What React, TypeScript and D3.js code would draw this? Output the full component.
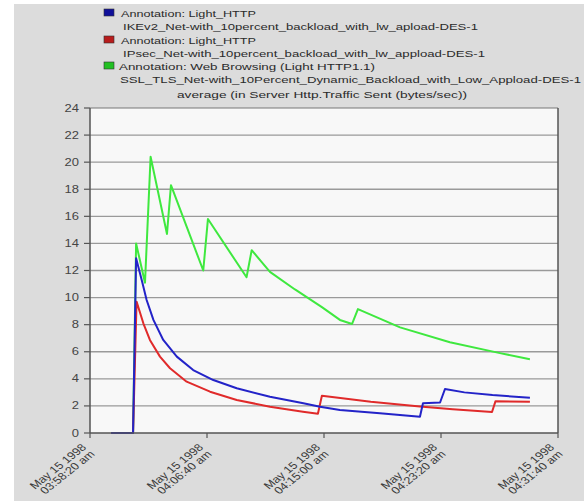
import React from "react";
import * as d3 from "d3";

// seconds after 03:58:20 am, May 15 1998
const ikevTimes = [90, 184, 197, 221, 242, 271, 313, 371, 441, 527, 627, 769, 912, 983, 1068, 1239, 1410, 1423, 1496, 1517, 1600, 1720, 1880];
const ikevValues = [0, 0, 12.9, 11.3, 9.82, 8.35, 6.87, 5.64, 4.65, 3.91, 3.3, 2.68, 2.19, 1.94, 1.7, 1.45, 1.2, 2.2, 2.25, 3.25, 3.0, 2.8, 2.6];

const ipsecTimes = [90, 184, 199, 228, 256, 299, 342, 413, 513, 627, 769, 910, 974, 991, 1200, 1410, 1550, 1718, 1733, 1880];
const ipsecValues = [0, 0, 9.7, 8.1, 6.87, 5.64, 4.78, 3.79, 3.05, 2.44, 1.94, 1.57, 1.42, 2.75, 2.3, 1.95, 1.75, 1.55, 2.35, 2.3];

const sslTimes = [90, 184, 197, 235, 259, 329, 346, 484, 504, 669, 691, 769, 876, 991, 1068, 1120, 1145, 1325, 1538, 1752, 1880];
const sslValues = [0, 0, 14.0, 11.1, 20.4, 14.7, 18.3, 12.0, 15.8, 11.5, 13.5, 11.9, 10.6, 9.3, 8.35, 8.05, 9.15, 7.8, 6.7, 5.9, 5.45];

const xTickTimes = ["03:58:20", "04:06:40", "04:15:00", "04:23:20", "04:31:40"];
const yTicks = [0, 2, 4, 6, 8, 10, 12, 14, 16, 18, 20, 22, 24];

const legendLines = [
  "Annotation: Light_HTTP",
  "IKEv2_Net-with_10percent_backload_with_lw_apload-DES-1",
  "Annotation: Light_HTTP",
  "IPsec_Net-with_10percent_backload_with_lw_appload-DES-1",
  "Annotation: Web Browsing (Light HTTP1.1)",
  "SSL_TLS_Net-with_10Percent_Dynamic_Backload_with_Low_Appload-DES-1",
];
const chartTitle = "average (in Server Http.Traffic Sent (bytes/sec))";

const start = new Date(1998, 4, 15, 3, 58, 20);
const toDate = (s: number) => new Date(start.getTime() + s * 1000);
const parseClock = (c: string) => {
  const [h, m, s] = c.split(":").map(Number);
  return new Date(1998, 4, 15, h, m, s);
};

const W = 584, H = 501;
const left = 90, right = 558, top = 108, bottom = 433;
const font = "'Liberation Sans', Arial, sans-serif";

export default function App() {
  const x = d3.scaleTime().domain([start, parseClock("04:31:40")]).range([left, right]);
  const y = d3.scaleLinear().domain([0, 24]).range([bottom, top]);
  const line = d3.line<[number, number]>().x(d => x(toDate(d[0]))).y(d => y(d[1]));
  const pts = (t: number[], v: number[]) => t.map((s, i) => [s, v[i]] as [number, number]);

  const series = [
    { t: sslTimes, v: sslValues, color: "#3fe83f" },
    { t: ipsecTimes, v: ipsecValues, color: "#e02a2a" },
    { t: ikevTimes, v: ikevValues, color: "#2323c8" },
  ];

  const legendLayout = [
    { x: 121, y: 17, w: 135 },
    { x: 123, y: 30, w: 355 },
    { x: 121, y: 44, w: 135 },
    { x: 123, y: 57, w: 362 },
    { x: 119, y: 70, w: 256 },
    { x: 120, y: 83, w: 461 },
  ];
  const swatches = [
    { y: 9, c: "#10109a" },
    { y: 36, c: "#b81c1c" },
    { y: 62, c: "#22c022" },
  ];

  return (
    <svg width={W} height={H} style={{ position: "absolute", left: 0, top: 0 }} fontFamily={font}>
      <rect width={W} height={H} fill="#ffffff" />
      <rect x={14} y={4} width={W - 14} height={H - 4} fill="#dcdcdc" />

      {swatches.map((s, i) => (
        <rect key={i} x={104} y={s.y} width={10} height={7} fill={s.c} stroke="#333" strokeWidth={0.6} />
      ))}
      {legendLines.map((txt, i) => (
        <text key={i} x={legendLayout[i].x} y={legendLayout[i].y} fontSize={9.5} fill="#2a2a2a"
          textLength={legendLayout[i].w} lengthAdjust="spacingAndGlyphs">{txt}</text>
      ))}
      <text x={177} y={98} fontSize={9.5} fill="#2a2a2a" textLength={290} lengthAdjust="spacingAndGlyphs">{chartTitle}</text>

      <rect x={left} y={top} width={right - left} height={bottom - top} fill="#f8f8f8" />
      {yTicks.map(t => (
        <g key={t}>
          {t > 0 && t < 24 && <line x1={left} x2={right} y1={y(t)} y2={y(t)} stroke="#9a9a9a" strokeWidth={1.4} />}
          <line x1={left - 6} x2={left} y1={y(t)} y2={y(t)} stroke="#555" strokeWidth={1.2} />
          <text transform={`translate(${left - 11},${y(t) + 3.5}) scale(1.3,1)`} textAnchor="end" fontSize={10} fill="#444">{t}</text>
        </g>
      ))}

      {series.map((s, i) => (
        <path key={i} d={line(pts(s.t, s.v)) || ""} fill="none" stroke={s.color} strokeWidth={2} strokeLinejoin="round" />
      ))}

      <line x1={left} x2={right} y1={top} y2={top} stroke="#777" strokeWidth={1.2} />
      <line x1={right} x2={right} y1={top} y2={bottom} stroke="#555" strokeWidth={1.5} />
      <line x1={left} x2={left} y1={top} y2={bottom} stroke="#555" strokeWidth={1.5} />
      <line x1={left} x2={right} y1={bottom} y2={bottom} stroke="#555" strokeWidth={1.5} />

      {xTickTimes.map(c => {
        const px = x(parseClock(c));
        return (
          <g key={c}>
            <line x1={px} x2={px} y1={bottom} y2={bottom + 5} stroke="#555" strokeWidth={1.2} />
            <g transform={`translate(${px - 3},${bottom + 15}) scale(1.25,1) rotate(-45)`}>
              <text textAnchor="end" fontSize={10.2} fill="#3a3a3a">May 15 1998</text>
              <text textAnchor="end" fontSize={10.2} fill="#3a3a3a" y={9.5}>{c} am</text>
            </g>
          </g>
        );
      })}
    </svg>
  );
}
